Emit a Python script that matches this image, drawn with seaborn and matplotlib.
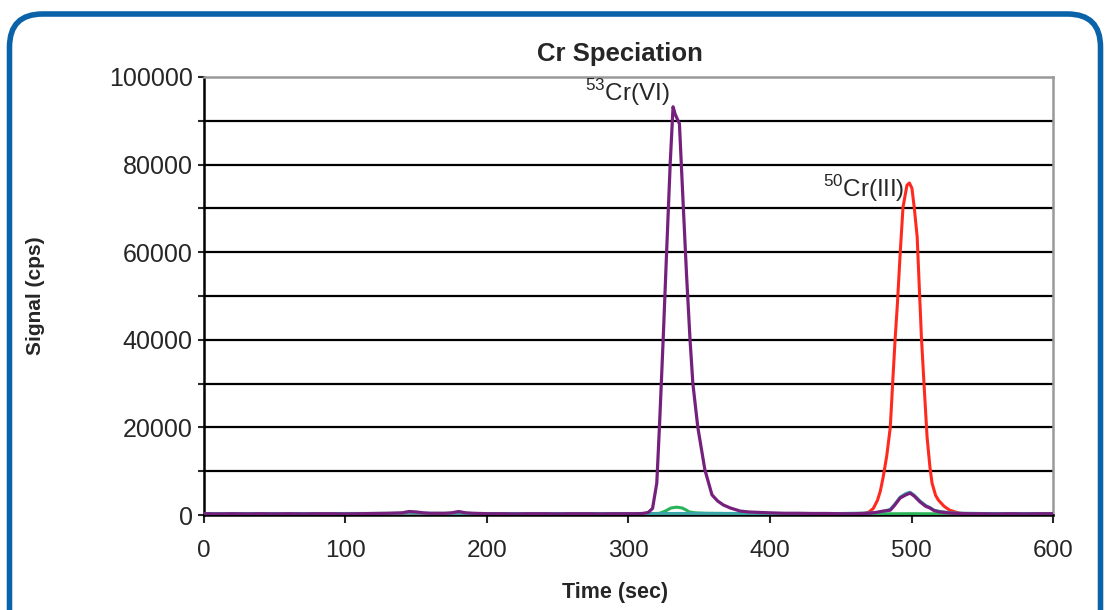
import numpy as np
import pandas as pd
import seaborn as sns
import matplotlib.pyplot as plt
from matplotlib.patches import FancyBboxPatch
from matplotlib.transforms import IdentityTransform
from matplotlib.ticker import MultipleLocator, FuncFormatter

# 53Cr(VI) trace (purple)
t_purple = [0, 10, 20, 30, 40, 50, 60, 70, 80, 90, 100, 110, 120, 130, 140, 145, 150, 155, 160, 170,
            175, 180, 185, 190, 200, 210, 220, 230, 240, 250, 260, 270, 280, 290, 300, 305, 310, 314,
            317, 320, 322, 324.5, 327, 329.5, 331.5, 333, 336, 338.5, 341, 343.5, 345.5, 349, 354, 359,
            363, 367, 372, 379, 385, 392, 400, 410, 420, 430, 440, 450, 460, 465, 470, 475, 480, 485,
            488, 492, 496, 499, 502, 506, 510, 513, 516, 520, 525, 530, 540, 550, 560, 570, 580, 590, 600]
y_purple = [300, 250, 300, 250, 300, 250, 300, 250, 300, 300, 250, 300, 350, 400, 500, 800, 700, 500, 400, 400,
            500, 800, 500, 400, 300, 300, 250, 300, 300, 250, 300, 300, 250, 300, 300, 300, 350, 600,
            1500, 7300, 21000, 40000, 60500, 80400, 93200, 91500, 89300, 72000, 55000, 40000, 30000, 20000, 10300, 4600,
            3200, 2300, 1600, 900, 700, 600, 500, 400, 400, 350, 350, 300, 300, 350, 400, 600, 900, 1100,
            2200, 3900, 4600, 5000, 4300, 3000, 2000, 1600, 1000, 700, 500, 400, 300, 300, 250, 300, 250, 300, 300]

# 50Cr(III) trace (red)
t_red = [0, 50, 100, 150, 200, 250, 300, 315, 325, 335, 345, 355, 370, 400, 430, 460, 465, 470, 473, 476,
         478, 480, 482.5, 485, 487, 488.5, 490, 492, 494, 496.8, 498.5, 500.3, 502, 504, 505.5, 507, 509,
         511, 513, 514.5, 517, 519, 523, 527, 534, 540, 550, 575, 600]
y_red = [50, 50, 50, 50, 50, 50, 50, 100, 250, 300, 250, 150, 80, 50, 50, 100, 200, 700, 1500, 3400,
         5500, 8700, 13500, 20000, 32000, 40600, 48000, 59800, 70300, 75300, 75800, 74600, 70000, 63500, 52000, 40600, 29000,
         17800, 11000, 7300, 4500, 3400, 2000, 1100, 400, 200, 100, 100, 100]

# green trace
t_green = [0, 50, 100, 150, 200, 250, 300, 318, 322, 326, 330, 334, 338, 341, 343, 347, 355, 370, 400,
           450, 500, 550, 600]
y_green = [250, 250, 250, 300, 250, 250, 250, 300, 400, 900, 1600, 1800, 1600, 1100, 700, 500, 400, 350, 300,
           250, 300, 250, 250]

# teal trace
t_teal = [0, 50, 100, 150, 200, 250, 300, 350, 400, 450, 475, 480, 485, 488, 492, 496, 499, 502, 506,
          510, 513, 516, 520, 530, 550, 600]
y_teal = [350, 350, 350, 400, 350, 350, 350, 350, 350, 350, 500, 800, 1300, 2400, 4100, 4900, 5200, 4500, 3200,
          2200, 1700, 1100, 800, 450, 350, 350]

tick_y = [0, 20000, 40000, 60000, 80000, 100000]
tick_x = [0, 100, 200, 300, 400, 500, 600]

sns.set_style("white")
plt.rcParams['font.family'] = ['Liberation Sans', 'DejaVu Sans']
plt.rcParams['mathtext.fontset'] = 'custom'
plt.rcParams['mathtext.rm'] = 'Liberation Sans'

fig = plt.figure(figsize=(11.06, 6.10), dpi=100)
ax = fig.add_axes([0.1844, 0.1557, 0.9521 - 0.1844, 0.8738 - 0.1557])

# horizontal grid every 10000
for g in range(10000, 100000, 10000):
    ax.axhline(g, color='black', lw=1.6, zorder=1)

sns.lineplot(x=t_green, y=y_green, color='#2bb35a', lw=2.2, ax=ax, zorder=3)
sns.lineplot(x=t_red, y=y_red, color='#ff2a1f', lw=2.2, ax=ax, zorder=4)
sns.lineplot(x=t_teal, y=y_teal, color='#3aa5a5', lw=2.2, ax=ax, zorder=5)
sns.lineplot(x=t_purple, y=y_purple, color='#76207e', lw=2.3, ax=ax, zorder=6)

ax.set_xlim(0, 600)
ax.set_ylim(0, 100000)
ax.set_xticks(tick_x)
ax.yaxis.set_major_locator(MultipleLocator(10000))
ax.yaxis.set_major_formatter(FuncFormatter(lambda v, p: f"{int(v)}" if int(v) in tick_y else ""))

ax.tick_params(axis='x', direction='out', length=6, width=1.5, pad=12, labelsize=17.5, bottom=True)
ax.tick_params(axis='y', direction='out', length=4, width=1.5, pad=4, labelsize=18, left=True)

for s in ['left', 'bottom']:
    ax.spines[s].set_color('black')
    ax.spines[s].set_linewidth(1.8)
for s in ['top', 'right']:
    ax.spines[s].set_color('#999999')
    ax.spines[s].set_linewidth(1.8)

ax.set_title('Cr Speciation', fontsize=18.5, fontweight='bold', pad=11.5, x=0.49)
ax.set_xlabel('Time (sec)', fontsize=15.5, fontweight='bold')
ax.xaxis.set_label_coords(0.484, -0.153)
ax.set_ylabel('Signal (cps)', fontsize=15, fontweight='bold', labelpad=46)

ax.text(329, 96500, r'$^{53}$Cr(VI)', fontsize=17.5, ha='right', va='center')
ax.text(495, 74500, r'$^{50}$Cr(III)', fontsize=17.5, ha='right', va='center')

frame = FancyBboxPatch((9.5, -60), 1091, 596 + 60, boxstyle='round,pad=0,rounding_size=33',
                       transform=IdentityTransform(), fill=False, edgecolor='#0a62a8', lw=4, clip_on=False)
fig.patches.append(frame)

fig.savefig('out.png', dpi=100)
